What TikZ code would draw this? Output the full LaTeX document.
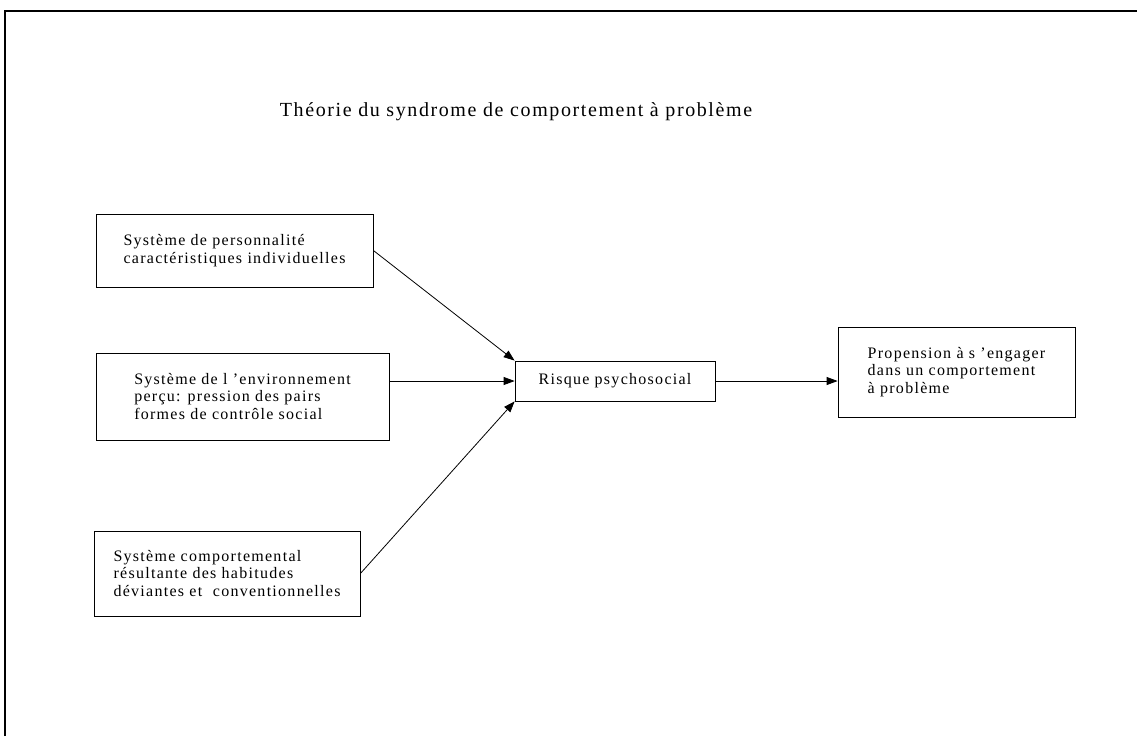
\documentclass[tikz,border=0pt]{standalone}
\usepackage{fontspec}
\setmainfont{Liberation Serif}[LetterSpace=8]
\usetikzlibrary{arrows.meta}
\begin{document}
\begin{tikzpicture}[x=1pt,y=-1pt,
  box/.style={draw,line width=0.8pt,align=left,inner sep=0pt,font=\fontsize{16}{17.5}\selectfont},
  arr/.style={line width=0.8pt,-{Triangle[length=11pt,width=8pt]}}]
  \useasboundingbox (0,0) rectangle (1137,736);
  \draw[line width=1.2pt] (5,736) -- (5,11) -- (1137,11);
  \node[anchor=base,font=\fontsize{20}{24}\selectfont] (title) at (516,116) {Théorie du syndrome de comportement à problème};
  \node[box,minimum width=277pt,minimum height=73pt] (pers) at (234.5,250.5) {Système de personnalité\\caractéristiques individuelles};
  \node[box,minimum width=293pt,minimum height=87pt] (env) at (242.5,396.5) {Système de l 'environnement\\perçu: pression des pairs\\formes de contrôle social};
  \node[box,minimum width=266pt,minimum height=85pt] (comp) at (227,573.5) {Système comportemental\\résultante des habitudes\\déviantes et \ conventionnelles};
  \node[box,minimum width=200pt,minimum height=40pt] (risque) at (615,381) {Risque psychosocial};
  \node[box,minimum width=237pt,minimum height=90pt] (prop) at (956.5,372) {Propension à s 'engager\\dans un comportement\\à problème};
  \draw[arr] (pers.east) -- (risque.north west);
  \draw[arr] (env.east |- risque.west) -- (risque.west);
  \draw[arr] (comp.east) -- (risque.south west);
  \draw[arr] (risque.east) -- (risque.east -| prop.west);
\end{tikzpicture}
\end{document}
